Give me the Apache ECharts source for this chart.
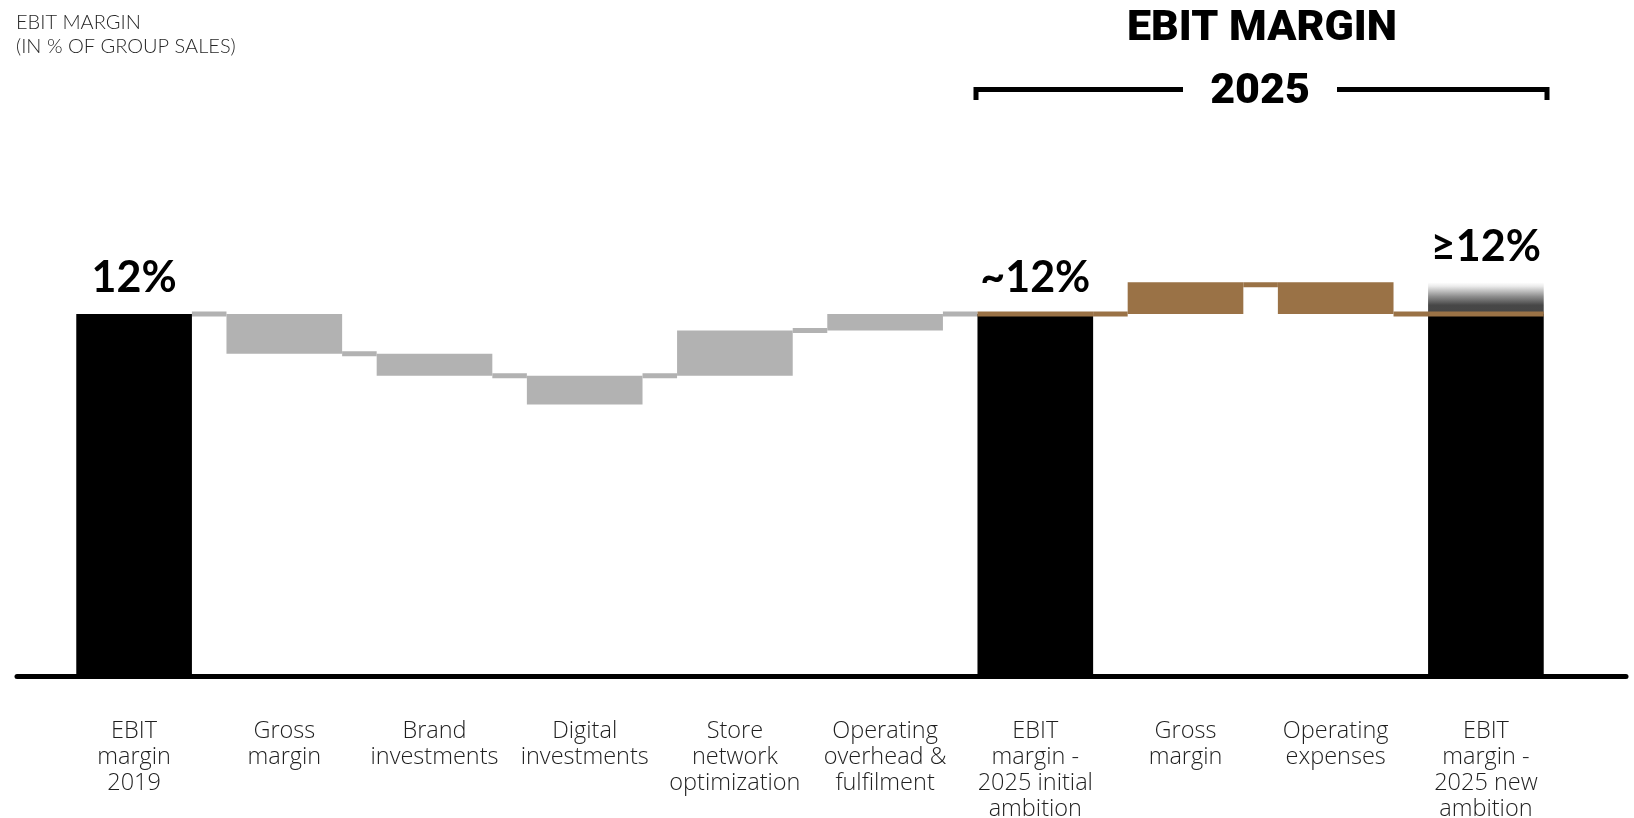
<!DOCTYPE html>
<html>
<head>
<meta charset="utf-8">
<script src="https://cdn.jsdelivr.net/npm/echarts@6/dist/echarts.min.js"></script>
<style>
  html, body { margin: 0; padding: 0; background: #fff; }
  #chart { width: 1634px; height: 818px; }
</style>
</head>
<body>
<div id="chart"></div>
<script>
// EBIT margin bridge, 2019 -> 2025 (in % of group sales)
const categories = [
  'EBIT\nmargin\n2019',
  'Gross\nmargin',
  'Brand\ninvestments',
  'Digital\ninvestments',
  'Store\nnetwork\noptimization',
  'Operating\noverhead &\nfulfilment',
  'EBIT\nmargin -\n2025 initial\nambition',
  'Gross\nmargin',
  'Operating\nexpenses',
  'EBIT\nmargin -\n2025 new\nambition'
];
// level where each step starts and ends
const stepFrom = [0, 12, 10.68, 9.95, 9.95, 11.45, 0, 12, 13.05, 0];
const stepTo   = [12, 10.68, 9.95, 9.0, 11.45, 12, 12, 13.05, 12, 12];
// kind of each step: total bar, 2019-2025 bridge, new-ambition drivers
const stepKind = ['total', 'bridge', 'bridge', 'bridge', 'bridge', 'bridge', 'total', 'plan', 'plan', 'total'];
// upside range stacked on the final bar
const upsideTop = [null, null, null, null, null, null, null, null, null, 13.05];
const valueLabels = ['12%', '', '', '', '', '', '~12%', '', '', '\u226512%'];
// connectors: [from index, to index, level]; from === to draws across the bar top
const bridgeLinks = [[0, 1, 12], [1, 2, 10.68], [2, 3, 9.95], [3, 4, 9.95], [4, 5, 11.45], [5, 6, 12]];
const planLinks = [[6, 6, 12], [6, 7, 12], [7, 8, 13.05], [8, 9, 12], [9, 9, 12]];

const COLORS = { total: '#000000', bridge: '#b2b2b2', plan: '#9a7246' };
const BAR_RATIO = 0.77;
const LINK_WIDTH = 5;
const valueFont = { fontFamily: 'Lato', fontWeight: 'bold', fontSize: 43, color: '#000' };

const baseData = stepFrom.map((f, i) => Math.min(f, stepTo[i]));
const stepData = stepFrom.map((f, i) => {
  const hasUpside = upsideTop[i] != null;
  return {
    value: Math.abs(stepTo[i] - f),
    itemStyle: { color: COLORS[stepKind[i]] },
    label: {
      show: !!valueLabels[i] && !hasUpside,
      position: 'top', distance: 14,
      formatter: valueLabels[i], ...valueFont
    }
  };
});
const upsideData = upsideTop.map((t, i) => t == null ? '-' : {
  value: t - Math.max(stepFrom[i], stepTo[i]),
  label: { show: true, position: 'top', distance: 14, formatter: valueLabels[i], ...valueFont }
});

const stepHigh = i => Math.max(stepFrom[i], stepTo[i]);
const stepLow = i => Math.min(stepFrom[i], stepTo[i]);

// A connector between two delta steps keeps inside them: it hangs below a
// shared top edge, sits above a shared bottom edge, and is centred otherwise.
function linkRenderer(color) {
  return function (params, api) {
    const from = api.value(0), to = api.value(1), level = api.value(2);
    const half = api.size([1, 0])[0] * BAR_RATIO / 2;
    const a = api.coord([from, level]);
    const b = api.coord([to, level]);
    let shift = 0;
    const bothDeltas = stepKind[from] !== 'total' && stepKind[to] !== 'total';
    if (bothDeltas && level >= stepHigh(from) && level >= stepHigh(to)) shift = LINK_WIDTH / 2;
    else if (bothDeltas && level <= stepLow(from) && level <= stepLow(to)) shift = -LINK_WIDTH / 2;
    const x1 = from === to ? a[0] - half : a[0] + half;
    const x2 = from === to ? b[0] + half : b[0] - half;
    return {
      type: 'line',
      shape: { x1: x1, y1: a[1] + shift, x2: x2, y2: b[1] + shift },
      style: { stroke: color, lineWidth: LINK_WIDTH }
    };
  };
}

const GRID_TOP = 253.67, GRID_BOTTOM = 142;

const option = {
  backgroundColor: '#ffffff',
  animation: false,
  grid: [
    { left: 59, right: 73, top: GRID_TOP, bottom: GRID_BOTTOM, outerBoundsMode: 'none', containLabel: false },
    { left: 17, right: 8, top: GRID_TOP, bottom: GRID_BOTTOM, outerBoundsMode: 'none', containLabel: false }
  ],
  xAxis: [
    {
      type: 'category', gridIndex: 0, data: categories,
      axisLine: { show: false }, axisTick: { show: false },
      axisLabel: {
        interval: 0, margin: 42, lineHeight: 26,
        fontFamily: 'Open Sans', fontWeight: 300, fontSize: 23.5, color: '#1e1e1e'
      }
    },
    {
      type: 'value', gridIndex: 1, min: 0, max: 1,
      axisLine: { show: true, onZero: false, lineStyle: { color: '#000', width: 5 } },
      axisTick: { show: false }, axisLabel: { show: false }, splitLine: { show: false }
    }
  ],
  yAxis: [
    { type: 'value', gridIndex: 0, min: 0, max: 14, show: false },
    { type: 'value', gridIndex: 1, min: 0, max: 14, show: false }
  ],
  series: [
    {
      type: 'custom', name: 'bridge links', z: 1,
      renderItem: linkRenderer(COLORS.bridge),
      encode: { x: [0, 1], y: 2 },
      data: bridgeLinks
    },
    {
      type: 'bar', name: 'base', stack: 'w', z: 2,
      barWidth: (BAR_RATIO * 100) + '%',
      itemStyle: { color: 'transparent' },
      data: baseData
    },
    {
      type: 'bar', name: 'step', stack: 'w', z: 2,
      barWidth: (BAR_RATIO * 100) + '%',
      data: stepData
    },
    {
      type: 'bar', name: 'upside', stack: 'w', z: 2,
      barWidth: (BAR_RATIO * 100) + '%',
      itemStyle: {
        color: {
          type: 'linear', x: 0, y: 0, x2: 0, y2: 1,
          colorStops: [
            { offset: 0, color: '#ffffff' },
            { offset: 0.12, color: '#ececec' },
            { offset: 0.45, color: '#8c8c8c' },
            { offset: 0.72, color: '#474747' },
            { offset: 1, color: '#454545' }
          ]
        }
      },
      data: upsideData
    },
    {
      type: 'custom', name: 'plan links', z: 5,
      renderItem: linkRenderer(COLORS.plan),
      encode: { x: [0, 1], y: 2 },
      data: planLinks
    }
  ],
  graphic: [
    {
      type: 'text', left: 16, top: 11, z: 10,
      style: {
        text: 'EBIT MARGIN\n(IN % OF GROUP SALES)',
        fontFamily: 'Lato', fontWeight: 300, fontSize: 20, lineHeight: 24, fill: '#262626'
      }
    },
    {
      type: 'text', z: 10,
      style: {
        x: 1262, y: 29.6, text: 'EBIT MARGIN', align: 'center', verticalAlign: 'middle',
        fontFamily: 'Roboto', fontWeight: 900, fontSize: 43, fill: '#000'
      }
    },
    {
      type: 'text', z: 10,
      style: {
        x: 1260, y: 92, text: '2025', align: 'center', verticalAlign: 'middle',
        fontFamily: 'Roboto', fontWeight: 900, fontSize: 43, fill: '#000'
      }
    },
    {
      type: 'polyline', z: 10,
      shape: { points: [[976, 100], [976, 89.5], [1183, 89.5]] },
      style: { stroke: '#000', lineWidth: 5, fill: null }
    },
    {
      type: 'polyline', z: 10,
      shape: { points: [[1337, 89.5], [1547, 89.5], [1547, 100]] },
      style: { stroke: '#000', lineWidth: 5, fill: null }
    }
  ]
};

const chart = echarts.init(document.getElementById('chart'), null, { renderer: 'canvas' });
chart.setOption(option);
</script>
</body>
</html>
